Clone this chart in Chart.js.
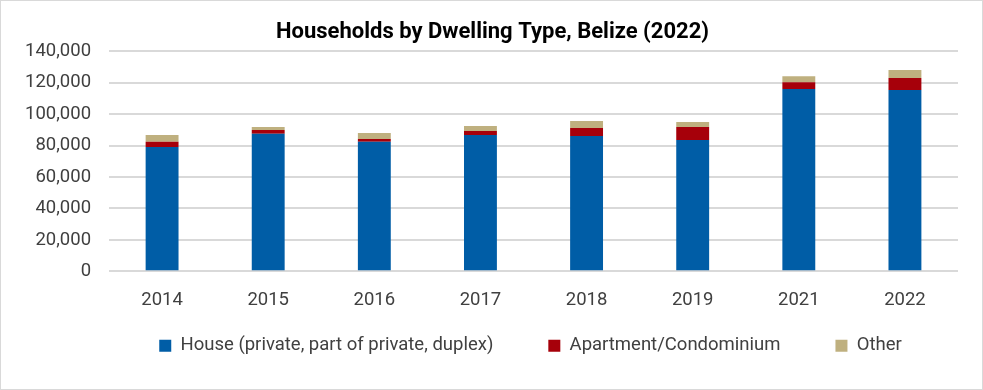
<!DOCTYPE html>
<html>
<head>
<meta charset="utf-8">
<script src="https://cdn.jsdelivr.net/npm/chart.js@4/dist/chart.umd.min.js"></script>
<style>
  html, body { margin: 0; padding: 0; background: #fff; }
  #wrap { width: 981px; height: 388px; border: 1px solid #d9d9d9; position: relative; }
</style>
</head>
<body>
<div id="wrap"><canvas id="grafico" width="981" height="388"></canvas></div>
<script>
// Datos
const anios = ["2014", "2015", "2016", "2017", "2018", "2019", "2021", "2022"];
const casa = [79200, 87600, 82500, 86800, 86200, 83600, 116000, 115400];
const apartamento = [3200, 2400, 1700, 2500, 5100, 8300, 4400, 7600];
const otro = [4400, 1900, 3800, 3200, 4400, 3100, 3800, 5100];

const fuente = "Roboto, 'Liberation Sans', sans-serif";

// Mueve leyenda y titulo despues del layout
const moverCajas = {
    id: "moverCajas",
    afterLayout(chart) {
        const lg = chart.legend;
        lg.left += 48; lg.right += 48;
        lg.top -= 40; lg.bottom -= 40;
        const t = chart.titleBlock;
        if (t) { t.left += 10; t.right += 10; }
    }
};

const ctx = document.getElementById("grafico").getContext("2d");

new Chart(ctx, {
    type: "bar",
    data: {
        labels: anios,
        datasets: [
            { label: "House (private, part of private, duplex)", data: casa, backgroundColor: "#005da6" },
            { label: "Apartment/Condominium", data: apartamento, backgroundColor: "#a6000a" },
            { label: "Other", data: otro, backgroundColor: "#bfb07f" }
        ]
    },
    plugins: [moverCajas],
    options: {
        responsive: false,
        animation: false,
        layout: { padding: { left: 6, right: 24, top: 4, bottom: -16 } },
        datasets: { bar: { barPercentage: 0.62, categoryPercentage: 0.5 } },
        plugins: {
            title: {
                display: true,
                text: "Households by Dwelling Type, Belize (2022)",
                color: "#000",
                font: { family: fuente, size: 22, weight: "bold" },
                padding: { top: 14, bottom: 6 }
            },
            legend: {
                position: "bottom",
                labels: {
                    color: "#404040",
                    font: { family: fuente, size: 18.5 },
                    boxWidth: 12,
                    boxHeight: 12,
                    padding: 55
                }
            },
            tooltip: { enabled: false }
        },
        scales: {
            x: {
                stacked: true,
                grid: { display: false },
                border: { display: false },
                ticks: { color: "#404040", font: { family: fuente, size: 18.5 }, padding: 10 }
            },
            y: {
                stacked: true,
                min: 0,
                max: 140000,
                ticks: {
                    stepSize: 20000,
                    color: "#404040",
                    font: { family: fuente, size: 18.5 },
                    padding: 18,
                    callback: v => v.toLocaleString("en-US")
                },
                grid: { color: "#d9d9d9", lineWidth: 2, drawTicks: false },
                border: { display: false }
            }
        }
    }
});
</script>
</body>
</html>
